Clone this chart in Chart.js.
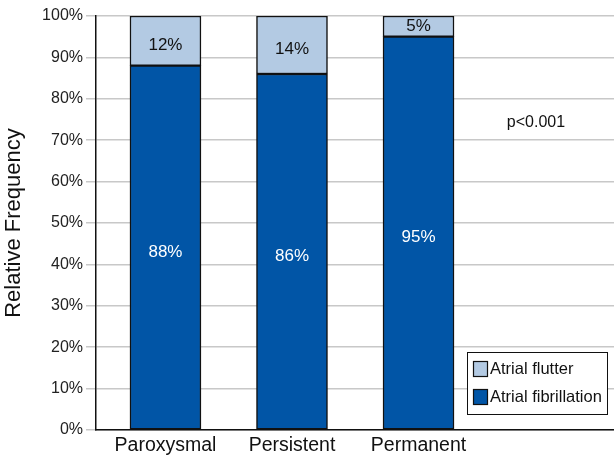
<!DOCTYPE html>
<html>
<head>
<meta charset="utf-8">
<script src="https://cdn.jsdelivr.net/npm/chart.js@4.4.1/dist/chart.umd.min.js"></script>
<style>
  html, body { margin: 0; padding: 0; background: #fff; }
  #wrap { width: 614px; height: 458px; }
</style>
</head>
<body>
<div id="wrap"><canvas id="af-chart" width="614" height="458"></canvas></div>
<script>
var categories = ['Paroxysmal', 'Persistent', 'Permanent'];
var fibrillation = [88, 86, 95];
var flutter = [12, 14, 5];
var yTicks = [0, 10, 20, 30, 40, 50, 60, 70, 80, 90, 100];
var pValue = 'p<0.001';

var FONT = '"Liberation Sans", Arial, sans-serif';
var DARK = '#0155a6';
var LIGHT = '#b3cae3';

function toPoints(arr) {
    return arr.map(function (v, i) { return {x: i, y: v}; });
}

// percent labels in the middle of each bar segment
var segmentLabels = {
    id: 'segmentLabels',
    afterDatasetsDraw: function (chart) {
        var ctx = chart.ctx;
        ctx.save();
        ctx.font = '17px ' + FONT;
        ctx.textAlign = 'center';
        ctx.textBaseline = 'middle';
        chart.data.datasets.forEach(function (ds, di) {
            var meta = chart.getDatasetMeta(di);
            meta.data.forEach(function (bar, i) {
                var p = bar.getProps(['x', 'y', 'base'], true);
                var h = Math.abs(p.base - p.y);
                var cy = (p.y + p.base) / 2 + (h > 40 ? 4.5 : 0);
                ctx.fillStyle = ds.labelColor;
                ctx.fillText(ds.data[i].y + '%', p.x, cy);
            });
        });
        ctx.restore();
    }
};

// boxed legend in the lower right and the p value note
var boxLegend = {
    id: 'boxLegend',
    afterDraw: function (chart) {
        var ctx = chart.ctx;
        var a = chart.chartArea;
        var bx = a.right - 147, by = a.bottom - 78, bw = 140, bh = 62;
        ctx.save();
        ctx.fillStyle = '#fff';
        ctx.fillRect(bx, by, bw, bh);
        ctx.strokeStyle = '#111';
        ctx.lineWidth = 1;
        ctx.strokeRect(bx + 0.5, by + 0.5, bw, bh);

        var items = chart.data.datasets.slice().reverse();
        ctx.font = '16.5px ' + FONT;
        ctx.textBaseline = 'middle';
        ctx.textAlign = 'left';
        items.forEach(function (ds, k) {
            var sy = by + 9 + k * 28;
            ctx.fillStyle = ds.backgroundColor;
            ctx.fillRect(bx + 6, sy, 15, 16);
            ctx.strokeStyle = '#111';
            ctx.lineWidth = 1.2;
            ctx.strokeRect(bx + 6.5, sy + 0.5, 14, 15);
            ctx.fillStyle = '#111';
            ctx.fillText(ds.label, bx + 23, sy + 8);
        });

        ctx.font = '16px ' + FONT;
        ctx.fillStyle = '#111';
        ctx.textAlign = 'center';
        ctx.fillText(pValue, 536, 123);
        ctx.restore();
    }
};

new Chart(document.getElementById('af-chart'), {
    type: 'bar',
    data: {
        datasets: [
            {label: 'Atrial fibrillation', data: toPoints(fibrillation), backgroundColor: DARK,
             borderColor: '#111', borderWidth: 1.5, borderSkipped: false, barThickness: 71, labelColor: '#fff'},
            {label: 'Atrial flutter', data: toPoints(flutter), backgroundColor: LIGHT,
             borderColor: '#111', borderWidth: 1.5, borderSkipped: false, barThickness: 71, labelColor: '#111'}
        ]
    },
    options: {
        responsive: false,
        animation: false,
        layout: {padding: {top: 16, right: 0, bottom: 0, left: 0}},
        plugins: {legend: {display: false}, tooltip: {enabled: false}},
        scales: {
            x: {
                type: 'linear',
                stacked: true,
                offset: false,
                min: -0.549,
                max: 3.545,
                afterFit: function (s) { s.height = 28; },
                afterBuildTicks: function (s) {
                    s.ticks = categories.map(function (c, i) { return {value: i}; });
                },
                grid: {display: false, drawTicks: false},
                border: {color: '#111', width: 1.5},
                ticks: {
                    autoSkip: false,
                    maxRotation: 0,
                    padding: 4,
                    color: '#111',
                    font: {family: FONT, size: 19.5},
                    callback: function (v) { return categories[v]; }
                }
            },
            y: {
                stacked: true,
                min: 0,
                max: 100,
                afterFit: function (s) { s.width = 96; },
                afterBuildTicks: function (s) {
                    s.ticks = yTicks.map(function (v) { return {value: v}; });
                },
                grid: {color: '#c8c8c8', lineWidth: 1.5, tickLength: 10, tickColor: '#c8c8c8'},
                border: {color: '#111', width: 1.5},
                ticks: {
                    padding: 3,
                    color: '#222',
                    font: {family: FONT, size: 16},
                    callback: function (v) { return v + '%'; }
                },
                title: {
                    display: true,
                    text: 'Relative Frequency',
                    color: '#111',
                    padding: {top: 1, bottom: 0},
                    font: {family: FONT, size: 22}
                }
            }
        }
    },
    plugins: [segmentLabels, boxLegend]
});
</script>
</body>
</html>
